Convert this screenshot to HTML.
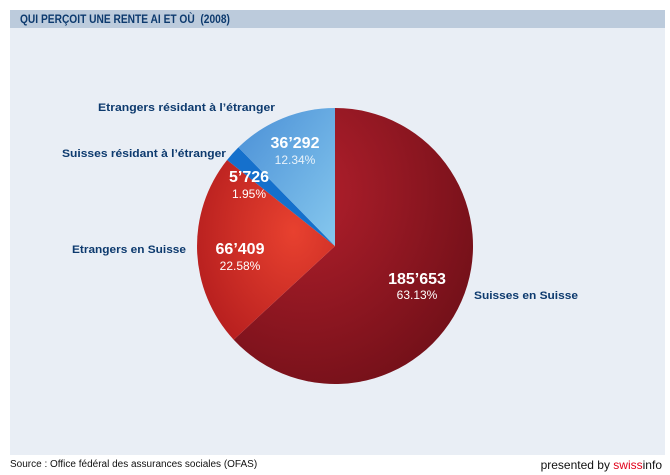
<!DOCTYPE html>
<html><head><meta charset="utf-8"><style>
body{margin:0;width:670px;height:475px;background:#fff;font-family:"Liberation Sans",sans-serif;position:relative;overflow:hidden}
.hdr{position:absolute;left:10px;top:10px;width:655px;height:18px;background:#bccbdc}
.hdr span{position:absolute;left:10px;top:2px;font-size:12px;font-weight:bold;color:#0d3a6e;transform:scaleX(0.85);transform-origin:left}
.panel{position:absolute;left:10px;top:28px;width:655px;height:427px;background:#e9eef5}
.ft{position:absolute;top:458px;font-size:11px;color:#111}
</style></head><body>
<div class="hdr"><span>QUI PERÇOIT UNE RENTE AI ET OÙ &nbsp;(2008)</span></div>
<div class="panel"></div>
<svg width="670" height="475" style="position:absolute;left:0;top:0">
<defs>
<radialGradient id="g1" cx="0.3" cy="0.3" r="0.9"><stop offset="0" stop-color="#b21f2c"/><stop offset="1" stop-color="#6a0e16"/></radialGradient>
<radialGradient id="g2" cx="0.7" cy="0.4" r="0.8"><stop offset="0" stop-color="#e8412f"/><stop offset="1" stop-color="#b41d1e"/></radialGradient>
<linearGradient id="g3" x1="1" y1="1" x2="0" y2="0"><stop offset="0" stop-color="#86c8ee"/><stop offset="1" stop-color="#4a8fd6"/></linearGradient>
</defs>
<path d="M335,246 L335,108 A138,138 0 1,1 233.7,339.7 Z" fill="url(#g1)"/>
<path d="M335,246 L233.7,339.7 A138,138 0 0,1 227.1,160 Z" fill="url(#g2)"/>
<path d="M335,246 L227.1,160 A138,138 0 0,1 238.4,147.4 Z" fill="#1570cc"/>
<path d="M335,246 L238.4,147.4 A138,138 0 0,1 335,108 Z" fill="url(#g3)"/>
<g font-family="Liberation Sans, sans-serif" text-anchor="middle">
<text x="417" y="284" font-size="16" font-weight="bold" fill="#fff">185’653</text>
<text x="417" y="299" font-size="12" fill="#fff">63.13%</text>
<text x="240" y="254" font-size="16" font-weight="bold" fill="#fff">66’409</text>
<text x="240" y="270" font-size="12" fill="#fff">22.58%</text>
<text x="249" y="182" font-size="16" font-weight="bold" fill="#fff">5’726</text>
<text x="249" y="198" font-size="12" fill="#fff">1.95%</text>
<text x="295" y="148" font-size="16" font-weight="bold" fill="#fff">36’292</text>
<text x="295" y="164" font-size="12" fill="#e8f2fa">12.34%</text>
</g>
<g font-family="Liberation Sans, sans-serif" font-size="11" font-weight="bold" fill="#0d3a6e" lengthAdjust="spacingAndGlyphs">
<text x="474" y="299" textLength="104" lengthAdjust="spacingAndGlyphs">Suisses en Suisse</text>
<text x="72" y="253" textLength="114" lengthAdjust="spacingAndGlyphs">Etrangers en Suisse</text>
<text x="62" y="157" textLength="164" lengthAdjust="spacingAndGlyphs">Suisses résidant à l’étranger</text>
<text x="98" y="111" textLength="177" lengthAdjust="spacingAndGlyphs">Etrangers résidant à l’étranger</text>
</g>
</svg>
<div class="ft" style="left:10px;font-size:10px;top:459px">Source : Office fédéral des assurances sociales (OFAS)</div>
<div class="ft" style="right:8px;font-size:12px">presented by <span style="color:#e2001a">swiss</span>info</div>
</body></html>
